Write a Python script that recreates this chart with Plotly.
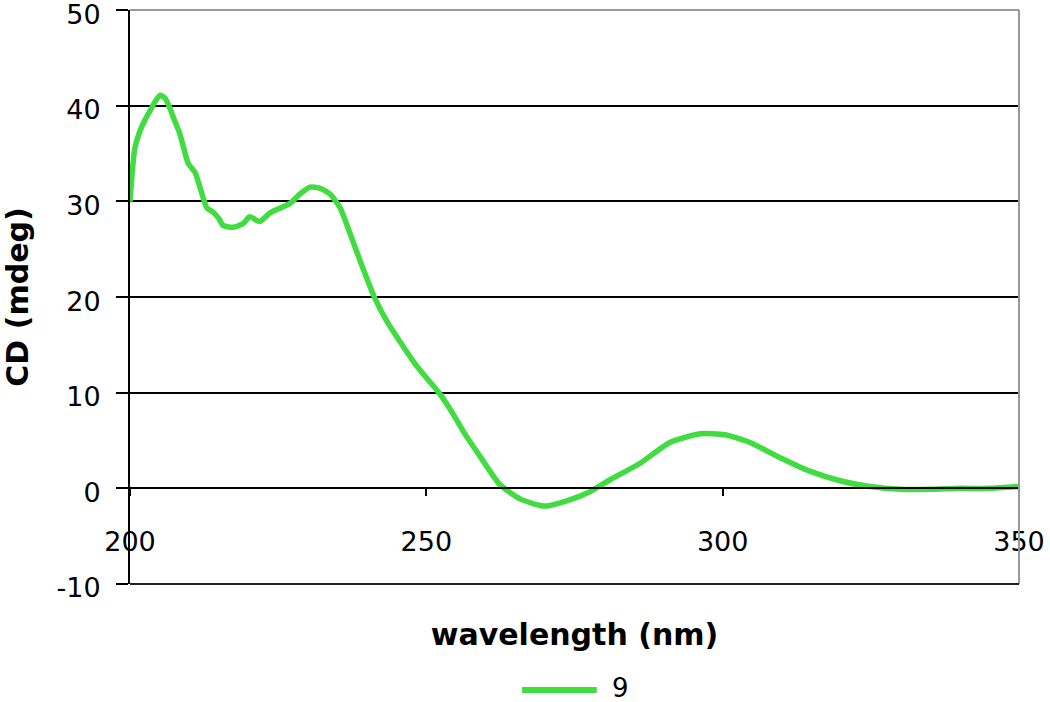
import plotly.graph_objects as go

wavelength = [200, 200.8, 201.7, 202.5, 203.4, 204.2, 205.1, 205.9, 206.7, 207.5,
              208.4, 209.1, 209.8, 211, 211.8, 213, 214, 215, 215.7, 217.4,
              219.1, 220.2, 221.9, 223.6, 225.3, 227, 228.7, 230.4, 232, 233.7,
              235.4, 237.1, 239, 241.3, 243.5, 245.6, 248, 250.1, 252, 254,
              256.5, 259, 262.4, 265.8, 270, 274.2, 277.6, 281, 286, 291.1,
              296.2, 300.4, 304.6, 309.7, 314.7, 319.8, 324.9, 330, 335, 340,
              345, 350]
cd_mdeg = [30, 35.5, 37.4, 38.5, 39.5, 40.4, 41.1, 40.8, 39.8, 38.5,
           37.1, 35.5, 34.0, 33.0, 31.5, 29.3, 28.9, 28.2, 27.5, 27.3,
           27.7, 28.4, 27.9, 28.8, 29.3, 29.8, 30.8, 31.5, 31.4, 30.8,
           29.4, 26.7, 23.5, 19.9, 17.3, 15.3, 13.1, 11.5, 10.1, 8.3,
           5.7, 3.4, 0.4, -1.1, -1.85, -1.2, -0.35, 0.9, 2.6, 4.8,
           5.7, 5.6, 4.8, 3.2, 1.8, 0.8, 0.2, -0.1, -0.1, 0.0,
           0.0, 0.2]
series_name = "9"
x_ticks = [200, 250, 300, 350]
y_ticks = [-10, 0, 10, 20, 30, 40, 50]
y_tick_text = ["-10", "0", "10", "20", "30", "40", "50"]

FONT = "DejaVu Sans"
GREEN = "#40DC40"
TICK_SIZE = 27
TITLE_SIZE = 30

fig = go.Figure()
fig.add_trace(go.Scatter(
    x=wavelength, y=cd_mdeg, mode="lines", name=series_name, showlegend=False,
    line=dict(color=GREEN, width=5.5, shape="spline", smoothing=0.6),
))

# Legend key below the plot (line sample + label)
LEG_Y = -0.1847
fig.add_shape(type="line", xref="paper", yref="paper", x0=0.441, x1=0.525,
              y0=LEG_Y, y1=LEG_Y, line=dict(color=GREEN, width=6))
fig.add_annotation(text=series_name, xref="paper", yref="paper", x=0.540, y=-0.1805,
                   xanchor="left", yanchor="middle", showarrow=False,
                   font=dict(family=FONT, size=26, color="black"))

fig.update_layout(
    width=1050, height=702,
    margin=dict(l=130, r=31, t=10, b=118),
    paper_bgcolor="white", plot_bgcolor="white",
    font=dict(family=FONT, size=TICK_SIZE, color="black"),
    showlegend=False,
    xaxis=dict(range=[200, 350], tickvals=x_ticks, showgrid=False, zeroline=False,
               anchor="free", position=10/60, showline=True, linecolor="black", linewidth=2,
               ticks="outside", ticklen=7, tickwidth=2, tickcolor="black",
               ticklabelstandoff=22, automargin=False, ticklabeloverflow="allow",
               tickfont=dict(family=FONT, size=TICK_SIZE, color="black"),
               title=dict(text="<b>wavelength (nm)</b>", standoff=67,
                          font=dict(family=FONT, size=TITLE_SIZE, color="black"))),
    yaxis=dict(range=[-10, 50.02], tickvals=y_ticks, ticktext=y_tick_text,
               showgrid=True, gridcolor="black", gridwidth=2,
               zeroline=False, showline=True, linecolor="black", linewidth=2,
               ticks="outside", ticklen=12, tickwidth=2, tickcolor="black",
               ticklabelstandoff=10, ticklabelshift=4,
               automargin=False, ticklabeloverflow="allow",
               tickfont=dict(family=FONT, size=TICK_SIZE, color="black"),
               title=dict(text="<b>CD (mdeg)</b>", standoff=26,
                          font=dict(family=FONT, size=TITLE_SIZE, color="black"))),
    shapes=list(fig.layout.shapes) + [
        dict(type="line", xref="paper", yref="paper", x0=0, x1=1, y0=1, y1=1,
             line=dict(color="#999999", width=2), layer="above"),
        dict(type="line", xref="paper", yref="paper", x0=1, x1=1, y0=0, y1=1,
             line=dict(color="#999999", width=2), layer="above"),
        dict(type="line", xref="paper", yref="paper", x0=0, x1=1, y0=0, y1=0,
             line=dict(color="#222222", width=2), layer="above"),
    ],
)

# remove the default page margin so the figure fills the window exactly
fig.write_html("out.html", config={"displayModeBar": False},
               post_script="document.body.style.margin='0';")
